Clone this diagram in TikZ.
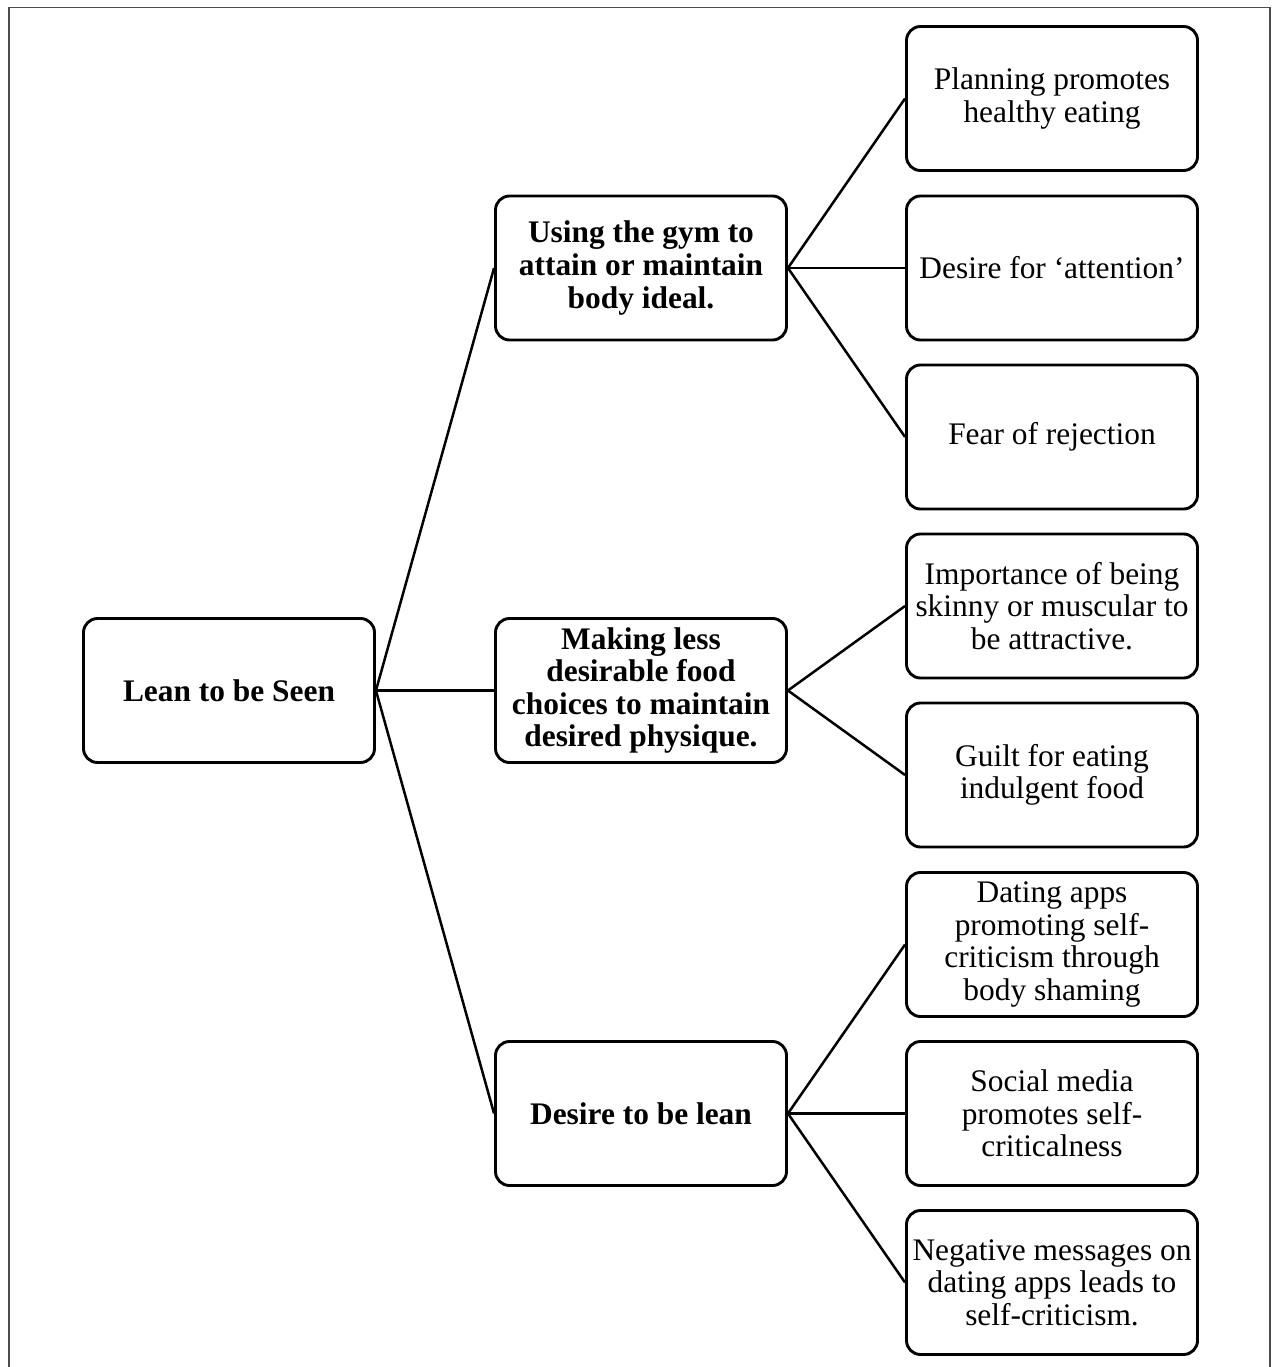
\documentclass[tikz,border=0pt]{standalone}
\usepackage{fontspec}
\setmainfont{Liberation Serif}
\begin{document}
\begin{tikzpicture}[x=1pt,y=-1pt,
  box/.style={draw, line width=2.9pt, rounded corners=14pt, minimum width=291pt, minimum height=144pt, align=center, inner sep=2pt, font=\fontsize{31.4}{32.6}\selectfont},
  head/.style={box, font=\fontsize{31.4}{32.6}\selectfont\bfseries},
  link/.style={line width=2.5pt}]
\useasboundingbox (0,0) rectangle (1275,1367);
\draw[black!70, line width=1.6pt] (9,1367) -- (9,7.5) -- (1270,7.5) -- (1270,1367);
% main theme and sub-themes
\node[head] (lean) at (229,690.5) {Lean to be Seen};
\node[head] (gym) at (641,268) {Using the gym to\\attain or maintain\\body ideal.};
\node[head] (food) at (641,690.5) {Making less\\desirable food\\choices to maintain\\desired physique.};
\node[head] (desire) at (641,1113.5) {Desire to be lean};
% codes
\node[box] (plan) at (1052,98.5) {Planning promotes\\healthy eating};
\node[box] (attn) at (1052,268) {Desire for ‘attention’};
\node[box] (fear) at (1052,437) {Fear of rejection};
\node[box] (skinny) at (1052,606) {Importance of being\\skinny or muscular to\\be attractive.};
\node[box] (guilt) at (1052,775) {Guilt for eating\\indulgent food};
\node[box] (apps) at (1052,944.5) {Dating apps\\promoting self-\\criticism through\\body shaming};
\node[box] (social) at (1052,1113.5) {Social media\\promotes self-\\criticalness};
\node[box] (neg) at (1052,1282.5) {Negative messages on\\dating apps leads to\\self-criticism.};
% links
\draw[link] (lean.east) -- (gym.west);
\draw[link] (lean.east) -- (food.west);
\draw[link] (lean.east) -- (desire.west);
\draw[link] (gym.east) -- (plan.west);
\draw[link] (gym.east) -- (attn.west);
\draw[link] (gym.east) -- (fear.west);
\draw[link] (food.east) -- (skinny.west);
\draw[link] (food.east) -- (guilt.west);
\draw[link] (desire.east) -- (apps.west);
\draw[link] (desire.east) -- (social.west);
\draw[link] (desire.east) -- (neg.west);
\end{tikzpicture}
\end{document}
